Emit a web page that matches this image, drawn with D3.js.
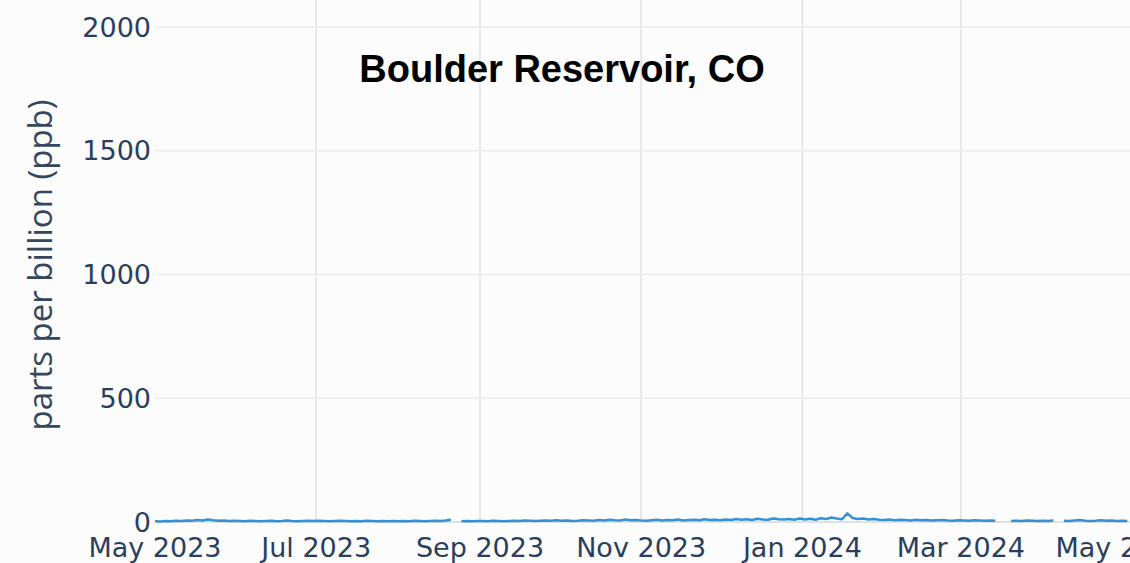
<!DOCTYPE html>
<html>
<head>
<meta charset="utf-8">
<script src="https://cdn.jsdelivr.net/npm/d3@7"></script>
<style>
    body { margin: 0; background: #fcfcfc; }
    svg { display: block; }
    .tickLabel { font-family: "DejaVu Sans", Verdana, sans-serif; font-size: 27px; fill: #2a3f5f; }
    .axisTitle { font-family: "Open Sans", sans-serif; font-size: 33px; fill: #34475f; }
    .chartTitle { font-family: "Liberation Sans", Arial, sans-serif; font-weight: bold; font-size: 38px; fill: #000; }
</style>
</head>
<body>
<div id="chart"></div>
<script>
// one reading every 2 days, starting 1 May 2023 (null = no data)
let startDate = new Date(2023, 4, 1);
let stepDays = 2;
let may23 = [3, 2, 4, 3, 5, 4, 6, 5, 8, 6, 10, 7, 5, 6, 4, 5];
let jun23 = [4, 3, 5, 4, 3, 4, 5, 3, 4, 6, 4, 3, 4, 5, 4];
let jul23 = [5, 4, 3, 4, 5, 4, 3, 4, 3, 5, 4, 3, 4, 3, 4];
let aug23 = [3, 4, 3, 5, 4, 3, 4, 5, 4, 6, 9, null, 3, 4, 3, 4];
let sep23 = [4, 3, 5, 4, 3, 4, 5, 4, 6, 5, 4, 5, 6, 5, 7];
let oct23 = [5, 6, 4, 5, 7, 6, 5, 8, 6, 9, 7, 6, 10, 7, 8];
let nov23 = [6, 5, 7, 9, 6, 8, 7, 10, 6, 8, 9, 7, 11, 8, 9];
let dec23 = [7, 10, 8, 12, 9, 11, 8, 13, 10, 9, 14, 11, 10, 12, 9, 14];
let jan24 = [10, 13, 9, 15, 12, 18, 14, 11, 35, 16, 12, 14, 10, 12, 9];
let feb24 = [8, 10, 7, 9, 8, 6, 9, 7, 8, 6, 7, 8, 6, 5, 7];
let mar24 = [6, 5, 7, 6, 5, 6, 5, null, null, 4, 5, 4, 6, 5, 4];
let apr24 = [5, 4, 6, null, 5, 4, 6, 8, 5, 4, 5, 7, 5, 6, 4];
let may24 = [5, 4];

let yTicks = [0, 500, 1000, 1500, 2000];
let xDomain = [new Date(2023, 4, 1), new Date(2024, 4, 4)];
let yDomain = [0, 2000];
let chartTitle = "Boulder Reservoir, CO";
let yTitle = "parts per billion (ppb)";

class PpbChart {

    constructor() {
        this.width = 1130;
        this.height = 563;
        this.margin = {top: 27, right: 0, bottom: 41, left: 155};

        this.svg = d3.select("#chart").append("svg")
            .attr("width", this.width)
            .attr("height", this.height);
    }

    draw() {
        let values = [].concat(may23, jun23, jul23, aug23, sep23, oct23, nov23, dec23, jan24, feb24, mar24, apr24, may24);
        let data = values.map((v, i) => ({date: d3.timeDay.offset(startDate, i * stepDays), value: v}));

        let xScale = d3.scaleTime()
            .domain(xDomain)
            .range([this.margin.left, this.width - this.margin.right]);
        let yScale = d3.scaleLinear()
            .domain(yDomain)
            .range([this.height - this.margin.bottom, this.margin.top]);

        let xTicks = d3.timeMonth.every(2).range(xDomain[0], d3.timeDay.offset(xDomain[1], 1));

        //grid lines
        let grid = this.svg.append("g");
        grid.selectAll(".vgrid")
            .data(xTicks.filter(d => xScale(d) > this.margin.left + 5 && xScale(d) < this.width - 15))
            .enter().append("line")
            .attr("x1", d => xScale(d)).attr("x2", d => xScale(d))
            .attr("y1", 0).attr("y2", yScale(0))
            .attr("stroke", "#e2e2e2")
            .attr("stroke-width", 1.5);
        grid.selectAll(".hgrid")
            .data(yTicks)
            .enter().append("line")
            .attr("x1", this.margin.left).attr("x2", this.width)
            .attr("y1", d => yScale(d)).attr("y2", d => yScale(d))
            .attr("stroke", d => d == 0 ? "#d8d8d8" : "#ececec")
            .attr("stroke-width", 1.5);

        //tick labels
        this.svg.append("g").selectAll("text")
            .data(yTicks)
            .enter().append("text")
            .attr("class", "tickLabel")
            .attr("x", this.margin.left - 4)
            .attr("y", d => yScale(d))
            .attr("dy", "0.36em")
            .attr("text-anchor", "end")
            .text(d => d);

        let fmt = d3.timeFormat("%b %Y");
        this.svg.append("g").selectAll("text")
            .data(xTicks)
            .enter().append("text")
            .attr("class", "tickLabel")
            .attr("x", d => xScale(d))
            .attr("y", 557)
            .attr("text-anchor", "middle")
            .text(d => fmt(d));

        //the data line
        let line = d3.line()
            .defined(d => d.value !== null)
            .x(d => xScale(d.date))
            .y(d => yScale(d.value));
        this.svg.append("path")
            .datum(data)
            .attr("d", line)
            .attr("fill", "none")
            .attr("stroke", "#3391d8")
            .attr("stroke-width", 2.5)
            .attr("stroke-linejoin", "round");

        //titles
        this.svg.append("text")
            .attr("class", "axisTitle")
            .attr("transform", "translate(52,265) rotate(-90)")
            .attr("text-anchor", "middle")
            .text(yTitle);

        this.svg.append("text")
            .attr("class", "chartTitle")
            .attr("x", 562)
            .attr("y", 82)
            .attr("text-anchor", "middle")
            .text(chartTitle);
    }
}

let chart = new PpbChart();
chart.draw();
</script>
</body>
</html>
